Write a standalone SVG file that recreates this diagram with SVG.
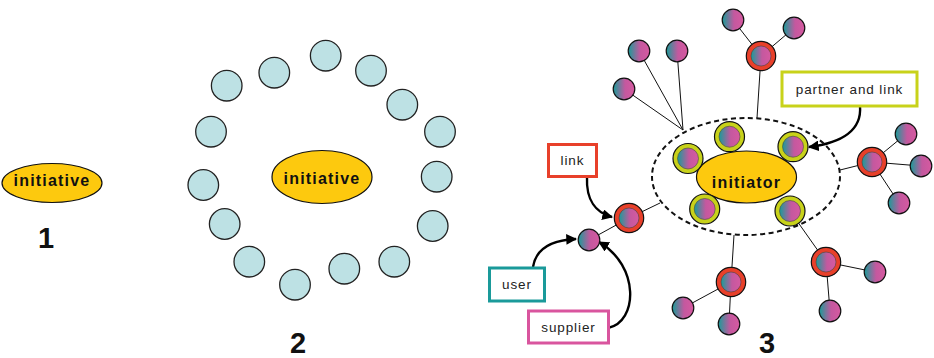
<svg xmlns="http://www.w3.org/2000/svg" width="934" height="358" viewBox="0 0 934 358">
<style>
.yel{fill:#fdc90e;stroke:#111;stroke-width:1.2}
.big{font-family:"Liberation Sans",Arial,sans-serif;font-weight:bold;font-size:16px;letter-spacing:1.2px;fill:#111;text-anchor:middle}
.num{font-family:"Liberation Sans Narrow","Liberation Sans",Arial,sans-serif;font-weight:bold;font-size:29px;fill:#111;text-anchor:middle}
.lbl{font-family:"Liberation Sans",Arial,sans-serif;font-size:13.5px;letter-spacing:0.9px;fill:#222;text-anchor:middle}
.blue{fill:#bde1e4;stroke:#222;stroke-width:1.3}
.sm{fill:url(#g);stroke:#111;stroke-width:1.2}
.inner{fill:url(#g);stroke:#444;stroke-width:0.6}
.redring{fill:#e8402a;stroke:#111;stroke-width:1.2}
.limering{fill:#c8d21a;stroke:#111;stroke-width:1.2}
.ln{stroke:#111;stroke-width:1;fill:none}
.arr{stroke:#000;stroke-width:2.4;fill:none;marker-end:url(#ah)}
.box{fill:#fff;stroke-width:3}
</style>
<defs>
<linearGradient id="g" x1="0" y1="0" x2="1" y2="0">
<stop offset="0" stop-color="#179d98"/>
<stop offset="0.55" stop-color="#c4589f"/>
<stop offset="1" stop-color="#d65aa0"/>
</linearGradient>
<marker id="ah" viewBox="0 0 10 10" refX="9" refY="5" markerWidth="4.5" markerHeight="4.5" orient="auto" markerUnits="strokeWidth">
<path d="M0,0 L10,5 L0,10 Z" fill="#000"/>
</marker>
</defs>

<!-- Panel 1 -->
<g id="p1-initiative">
<ellipse class="yel" cx="52" cy="183" rx="50" ry="19.5"/>
<text class="big" x="52" y="186">initiative</text>
</g>
<text class="num" x="46" y="248">1</text>

<!-- Panel 2 -->
<g id="p2-initiative">
<ellipse class="yel" cx="322" cy="177" rx="50" ry="26.5"/>
<text class="big" x="322" y="184">initiative</text>
</g>
<g id="p2-ring">
<circle class="blue" cx="325.7" cy="55.7" r="15.3"/>
<circle class="blue" cx="371" cy="70.7" r="15.3"/>
<circle class="blue" cx="274.3" cy="72.7" r="15.3"/>
<circle class="blue" cx="226.7" cy="85.7" r="15.3"/>
<circle class="blue" cx="402.3" cy="104.7" r="15.3"/>
<circle class="blue" cx="211" cy="131.7" r="15.3"/>
<circle class="blue" cx="440" cy="131.7" r="15.3"/>
<circle class="blue" cx="436.7" cy="176.7" r="15.3"/>
<circle class="blue" cx="203.3" cy="185" r="15.3"/>
<circle class="blue" cx="432.7" cy="226" r="15.3"/>
<circle class="blue" cx="224.7" cy="224" r="15.3"/>
<circle class="blue" cx="394.3" cy="261.7" r="15.3"/>
<circle class="blue" cx="249.3" cy="261.7" r="15.3"/>
<circle class="blue" cx="344.3" cy="268.7" r="15.3"/>
<circle class="blue" cx="295" cy="284.7" r="15.3"/>
</g>
<text class="num" x="298" y="353">2</text>

<!-- Panel 3 connectors -->
<g id="connectors">
<line class="ln" x1="639" y1="51" x2="683" y2="130"/>
<line class="ln" x1="677" y1="51" x2="683" y2="130"/>
<line class="ln" x1="624" y1="89" x2="683" y2="130"/>
<line class="ln" x1="761" y1="56" x2="757" y2="118"/>
<line class="ln" x1="761" y1="56" x2="733" y2="20"/>
<line class="ln" x1="761" y1="56" x2="794" y2="28"/>
<line class="ln" x1="872" y1="162" x2="840" y2="170"/>
<line class="ln" x1="872" y1="162" x2="906" y2="134"/>
<line class="ln" x1="872" y1="162" x2="921" y2="166"/>
<line class="ln" x1="872" y1="162" x2="899" y2="203"/>
<line class="ln" x1="629" y1="218" x2="660" y2="203"/>
<line class="ln" x1="629" y1="218" x2="589" y2="240"/>
<line class="ln" x1="731" y1="282" x2="734" y2="235"/>
<line class="ln" x1="731" y1="282" x2="683" y2="308"/>
<line class="ln" x1="731" y1="282" x2="729" y2="324"/>
<line class="ln" x1="790" y1="211" x2="826" y2="262"/>
<line class="ln" x1="826" y1="262" x2="875" y2="272"/>
<line class="ln" x1="826" y1="262" x2="830" y2="311"/>
<path class="arr" d="M587,177 C586,200 596,213 612,217"/>
<path class="arr" d="M533,267 C536,248 553,240 576,239"/>
<path class="arr" d="M608,328 C638,322 640,266 599,242"/>
<path class="arr" d="M860,106 C862,130 842,143 809,147"/>
</g>

<g id="group-boundary">
<ellipse cx="746" cy="176.5" rx="94" ry="58.5" fill="none" stroke="#111" stroke-width="2" stroke-dasharray="5,3.5"/>
</g>
<g id="initiator">
<ellipse class="yel" cx="746.5" cy="177" rx="50" ry="26"/>
<text class="big" x="746.5" y="188">initiator</text>
</g>

<g id="partners">
<circle class="limering" cx="688" cy="158.5" r="15"/><circle class="inner" cx="688" cy="158.5" r="10.5"/>
<circle class="limering" cx="729.5" cy="136.7" r="15"/><circle class="inner" cx="729.5" cy="136.7" r="10.5"/>
<circle class="limering" cx="793" cy="146.7" r="15"/><circle class="inner" cx="793" cy="146.7" r="10.5"/>
<circle class="limering" cx="704.7" cy="209" r="15"/><circle class="inner" cx="704.7" cy="209" r="10.5"/>
<circle class="limering" cx="790" cy="211" r="15"/><circle class="inner" cx="790" cy="211" r="10.5"/>
</g>

<g id="links">
<circle class="redring" cx="761" cy="56" r="14.7"/><circle class="inner" cx="761" cy="56" r="10"/>
<circle class="redring" cx="872" cy="162" r="14.7"/><circle class="inner" cx="872" cy="162" r="10"/>
<circle class="redring" cx="629" cy="218" r="14.7"/><circle class="inner" cx="629" cy="218" r="10"/>
<circle class="redring" cx="731" cy="282" r="14.7"/><circle class="inner" cx="731" cy="282" r="10"/>
<circle class="redring" cx="826" cy="262" r="14.7"/><circle class="inner" cx="826" cy="262" r="10"/>
</g>

<g id="actors">
<circle class="sm" cx="639" cy="51" r="10.8"/>
<circle class="sm" cx="677" cy="51" r="10.8"/>
<circle class="sm" cx="624" cy="89" r="10.8"/>
<circle class="sm" cx="733" cy="20" r="10.8"/>
<circle class="sm" cx="794" cy="28" r="10.8"/>
<circle class="sm" cx="906" cy="134" r="10.8"/>
<circle class="sm" cx="921" cy="166" r="10.8"/>
<circle class="sm" cx="899" cy="203" r="10.8"/>
<circle class="sm" cx="683" cy="308" r="10.8"/>
<circle class="sm" cx="729" cy="324" r="10.8"/>
<circle class="sm" cx="875" cy="272" r="10.8"/>
<circle class="sm" cx="830" cy="311" r="10.8"/>
<circle class="sm" cx="589" cy="240" r="10.8"/>
</g>

<g id="label-partner">
<rect class="box" x="782" y="72" width="135" height="34" stroke="#c8d21a"/>
<text class="lbl" x="849.5" y="94">partner and link</text>
</g>
<g id="label-link">
<rect class="box" x="548.5" y="144.5" width="48" height="32" stroke="#e8402a"/>
<text class="lbl" x="572.5" y="165">link</text>
</g>
<g id="label-user">
<rect class="box" x="489.5" y="268" width="55" height="33" stroke="#1a9a9a"/>
<text class="lbl" x="517" y="289">user</text>
</g>
<g id="label-supplier">
<rect class="box" x="528.5" y="311" width="80" height="32" stroke="#d9559e"/>
<text class="lbl" x="568.5" y="332">supplier</text>
</g>
<text class="num" x="767" y="353">3</text>
</svg>
